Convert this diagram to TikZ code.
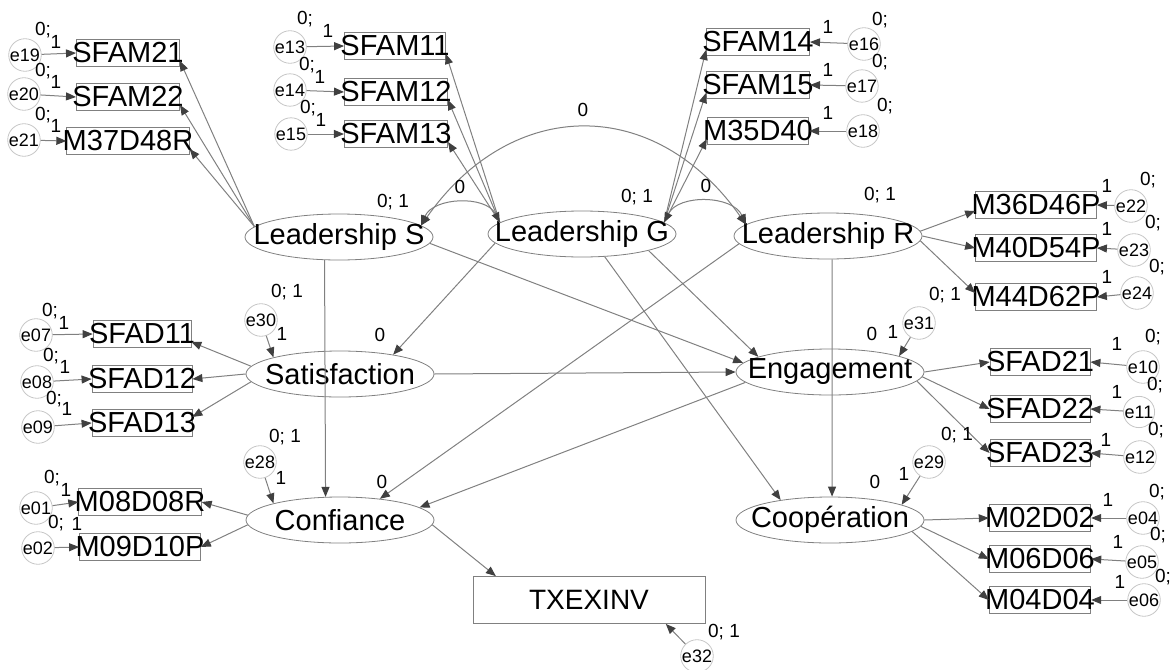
\documentclass[tikz,border=0pt]{standalone}
\usepackage{fontspec}
\setmainfont{Liberation Sans}
\usetikzlibrary{arrows.meta,shapes.geometric,calc}

\tikzset{
  obs/.style={draw=gray, rectangle, inner ysep=0pt, inner xsep=-2pt, minimum height=13.5pt,
    font=\fontsize{14.5}{15}\selectfont},
  lat/.style={draw=gray, ellipse, inner ysep=0pt, inner xsep=-12pt, minimum width=94pt,
    minimum height=23pt, font=\fontsize{14.5}{15}\selectfont},
  err/.style={draw=gray!45, circle, inner sep=0pt, minimum size=10.5pt,
    font=\fontsize{9}{10}\selectfont},
  lbl/.style={inner sep=0pt, font=\fontsize{9.5}{10}\selectfont},
  arr/.style={draw=gray, line width=0.5pt, ->},
  cov/.style={draw=gray, line width=0.5pt, <->}
}

\begin{document}
\begin{tikzpicture}[x=0.5pt, y=0.5pt, >={Triangle[length=5pt,width=4pt,color=black!75]}]
    \useasboundingbox (0,0) rectangle (1172,-669);

    % latent variables
    \node[lat] (LS) at (339,-237) {Leadership S};
    \node[lat] (LG) at (582,-234) {Leadership G};
    \node[lat] (LR) at (828,-236) {Leadership R};
    \node[lat] (Sat) at (340,-374) {Satisfaction};
    \node[lat] (Eng) at (830,-372) {Engagement};
    \node[lat] (Conf) at (340,-520) {Confiance};
    \node[lat] (Coop) at (830,-520) {Coopération};
    \node[obs, inner xsep=0pt, minimum width=116pt, minimum height=23.5pt,
      font=\fontsize{14}{15}\selectfont] (TX) at (589,-600) {TXEXINV};

    % indicators, errors on the left
    \foreach \n/\x/\y/\e/\ex/\ey/\zx/\zy/\ox/\oy in {
        SFAM21/128/53/e19/25/55/43/30/56/42,
        SFAM22/128/97/e20/24/94/43/71/56/82,
        M37D48R/128/141/e21/24/140/43/115/56/126,
        SFAM11/395/46/e13/290/47/305/19/328/31,
        SFAM12/396/92/e14/290/90/307/65/320/77,
        SFAM13/396/134/e15/291/134/308/108/321/120,
        SFAD11/142/334/e07/36/335/50/311/64/323,
        SFAD12/142/379/e08/37/382/51/356/65/367,
        SFAD13/142/423/e09/38/427/54/399/67/409,
        M08D08R/140/502/e01/36/508/52/478/66/490,
        M09D10P/140/547/e02/38/548/56/523/77/524} {
        \node[obs] (\n) at (\x,-\y) {\n};
        \node[err] (\e) at (\ex,-\ey) {\e};
        \node[lbl] at (\zx,-\zy) {0;};
        \node[lbl] at (\ox,-\oy) {1};
        \draw[arr] (\e) -- (\n.west);
    }

    % indicators, errors on the right
    \foreach \n/\x/\y/\e/\ex/\ey/\zx/\zy/\ox/\oy in {
        SFAM14/758/42/e16/864/44/880/20/828/27,
        SFAM15/758/85/e17/862/86/880/62/828/70,
        M35D40/758/131/e18/863/131/885/106/828/113,
        M36D46P/1036/205/e22/1131/206/1148/180/1107/186,
        M40D54P/1036/248/e23/1134/250/1153/223/1107/229,
        M44D62P/1036/297/e24/1137/293/1157/267/1107/277,
        SFAD21/1040/362/e10/1143/367/1153/337/1117/344,
        SFAD22/1040/409/e11/1139/412/1155/385/1117/392,
        SFAD23/1040/453/e12/1140/457/1156/430/1106/440,
        M02D02/1040/518/e04/1143/518/1157/492/1108/500,
        M06D06/1040/559/e05/1142/562/1158/535/1118/542,
        M04D04/1040/600/e06/1144/600/1163/577/1120/582} {
        \node[obs] (\n) at (\x,-\y) {\n};
        \node[err] (\e) at (\ex,-\ey) {\e};
        \node[lbl] at (\zx,-\zy) {0;};
        \node[lbl] at (\ox,-\oy) {1};
        \draw[arr] (\e) -- (\n.east);
    }

    % loadings
    \foreach \n in {SFAM21,SFAM22,M37D48R}
        \draw[arr] (LS.173) -- ([yshift=-4pt]\n.east);
    \foreach \n in {SFAM11,SFAM12,SFAM13}
        \draw[arr] (LG.172) -- ([yshift=-4pt]\n.east);
    \foreach \n in {SFAM14,SFAM15,M35D40}
        \draw[arr] (LG.8) -- ([yshift=-4pt]\n.west);
    \foreach \a/\n/\s in {3/M36D46P/-3pt, 0/M40D54P/0pt, -3/M44D62P/2pt}
        \draw[arr] (LR.\a) -- ([yshift=\s]\n.west);
    \foreach \a/\n/\s in {175/SFAD11/-4pt, 180/SFAD12/0pt, 185/SFAD13/3pt}
        \draw[arr] (Sat.\a) -- ([yshift=\s]\n.east);
    \foreach \a/\n in {0/SFAD21, -3/SFAD22, -6/SFAD23}
        \draw[arr] (Eng.\a) -- (\n.west);
    \foreach \a/\n in {0/M02D02, -4/M06D06, -8/M04D04}
        \draw[arr] (Coop.\a) -- (\n.west);
    \foreach \a/\n in {177/M08D08R, 183/M09D10P}
        \draw[arr] (Conf.\a) -- (\n.east);

    % structural paths
    \draw[arr] (LS.238) -- (Conf.122);
    \draw[arr] (LS.-4) -- (Eng.174);
    \draw[arr] (LG.186) -- (Sat.20);
    \draw[arr] (LG.-14) -- (Eng.168);
    \draw[arr] (LG.-45) -- (Coop.158);
    \draw[arr] (LR.185) -- (Conf.28);
    \draw[arr] (LR.-80) -- (Coop.85);
    \draw[arr] (Sat.east) -- (Eng.west);
    \draw[arr] (Eng.187) -- (Conf.9);
    \draw[arr] (Conf.-3) -- ($(TX.north west)!0.1!(TX.north east)$);

    % covariances
    \draw[cov] (LS.8) to[bend left=65] (LG.172);
    \draw[cov] (LG.8) to[bend left=65] (LR.172);
    \draw[cov] (LS.8) .. controls +(55:158) and +(125:158) .. (LR.172);
    \node[lbl] at (460,-187) {0};
    \node[lbl] at (706,-186) {0};
    \node[lbl] at (583,-110) {0};

    % residuals of latent variables
    \node[err] (e30) at (261,-320) {e30};
    \node[err] (e28) at (260,-462) {e28};
    \node[err] (e31) at (919,-323) {e31};
    \node[err] (e29) at (929,-462) {e29};
    \node[err] (e32) at (697,-656) {e32};
    \draw[arr] (e30) -- (Sat.166);
    \draw[arr] (e28) -- (Conf.166);
    \draw[arr] (e31) -- (Eng.13);
    \draw[arr] (e29) -- (Coop.12);
    \draw[arr] (e32) -- ($(TX.south west)!0.83!(TX.south east)$);

    % means and variances
    \foreach \x/\y/\t in {393/202/{0; 1}, 637/197/{0; 1}, 880/195/{0; 1},
        287/292/{0; 1}, 282/334/1, 285/437/{0; 1}, 281/478/1,
        945/295/{0; 1}, 893/332/1, 957/435/{0; 1}, 904/474/1, 724/632/{0; 1},
        380/335/0, 382/482/0, 872/334/0, 875/482/0}
        \node[lbl] at (\x,-\y) {\t};
\end{tikzpicture}
\end{document}
